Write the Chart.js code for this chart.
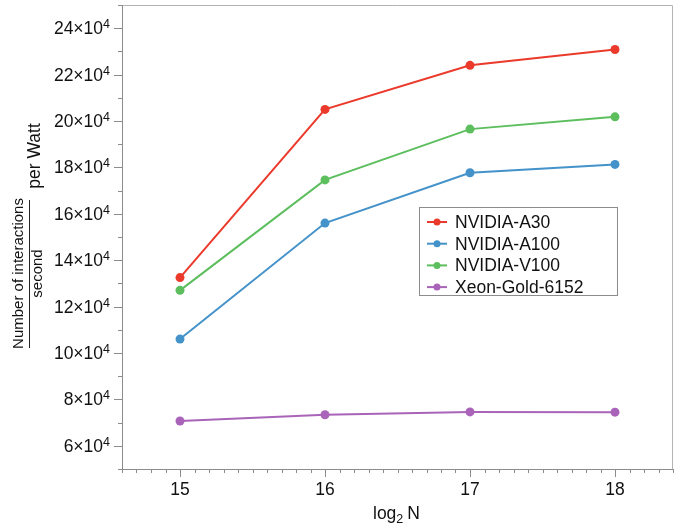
<!DOCTYPE html>
<html>
<head>
<meta charset="utf-8">
<script src="https://cdn.jsdelivr.net/npm/chart.js@4/dist/chart.umd.min.js"></script>
<style>
  html, body { margin: 0; padding: 0; background: #fff; overflow: hidden; }
  #wrap { width: 674px; height: 525px; position: relative; }
</style>
</head>
<body>
<div id="wrap"><canvas id="myChart"></canvas></div>
<script>
// data (y values in units of 10^4)
const sizes = [15, 16, 17, 18];
const a30 = [13.25, 20.5, 22.4, 23.08];
const a100 = [10.6, 15.6, 17.77, 18.13];
const v100 = [12.7, 17.46, 19.65, 20.18];
const xeon = [7.07, 7.34, 7.46, 7.45];

const seriesNames = ['NVIDIA-A30', 'NVIDIA-A100', 'NVIDIA-V100', 'Xeon-Gold-6152'];
const seriesColors = ['#EB3A2B', '#4392C9', '#5DBE5E', '#A963B9'];

const xTicks = [15, 16, 17, 18];
const yTicks = [6, 8, 10, 12, 14, 16, 18, 20, 22, 24];

const FONT = '"Liberation Sans", Arial, Helvetica, sans-serif';

function toPoints(values) {
  return sizes.map(function(x, i) { return { x: x, y: values[i] * 1e4 }; });
}

const allValues = [a30, a100, v100, xeon];

// draws frame, tick marks, tick labels, axis titles and legend
const decorPlugin = {
  id: 'decor',
  afterDraw(chart) {
    const ctx = chart.ctx;
    const a = chart.chartArea;
    const xs = chart.scales.x;
    const ys = chart.scales.y;
    ctx.save();

    // top and right frame
    ctx.strokeStyle = '#b4b4b4';
    ctx.lineWidth = 1;
    ctx.beginPath();
    ctx.moveTo(a.left, a.top + 0.5);
    ctx.lineTo(a.right - 0.5, a.top + 0.5);
    ctx.lineTo(a.right - 0.5, a.bottom);
    ctx.stroke();

    // left and bottom axes
    ctx.strokeStyle = '#8c8c8c';
    ctx.beginPath();
    ctx.moveTo(a.left + 0.5, a.top);
    ctx.lineTo(a.left + 0.5, a.bottom + 0.5);
    ctx.lineTo(a.right, a.bottom + 0.5);
    ctx.stroke();

    // y ticks every 1e4, major every 2e4
    ctx.beginPath();
    for (let v = 5; v <= 25; v++) {
      const py = Math.round(ys.getPixelForValue(v * 1e4)) + 0.5;
      const len = (v % 2 === 0) ? 8 : 4;
      ctx.moveTo(a.left, py);
      ctx.lineTo(a.left - len, py);
    }
    // x ticks every 0.1, major on integers
    for (let k = 146; k <= 184; k++) {
      const px = Math.round(xs.getPixelForValue(k / 10)) + 0.5;
      const len = (k % 10 === 0) ? 8 : 4;
      ctx.moveTo(px, a.bottom);
      ctx.lineTo(px, a.bottom + len);
    }
    ctx.stroke();

    ctx.fillStyle = '#111';
    // y tick labels like 24x10^4
    yTicks.forEach(function(v) {
      const py = ys.getPixelForValue(v * 1e4);
      ctx.font = '12.5px ' + FONT;
      ctx.textAlign = 'right';
      ctx.textBaseline = 'alphabetic';
      const supW = ctx.measureText('4').width;
      ctx.fillText('4', 110, py + 0);
      ctx.font = '17.5px ' + FONT;
      ctx.fillText(v + '\u00d710', 110 - supW, py + 6);
    });

    // x tick labels
    ctx.font = '17.5px ' + FONT;
    ctx.textAlign = 'center';
    ctx.textBaseline = 'middle';
    xTicks.forEach(function(v) {
      ctx.fillText(String(v), xs.getPixelForValue(v), 490);
    });

    // x title: log2 N
    ctx.textAlign = 'left';
    ctx.textBaseline = 'alphabetic';
    ctx.font = '17.5px ' + FONT;
    let tx = 373;
    ctx.fillText('log', tx, 519);
    tx += ctx.measureText('log').width;
    ctx.font = '12.5px ' + FONT;
    ctx.fillText('2', tx, 523);
    tx += ctx.measureText('2').width + 4;
    ctx.font = '17.5px ' + FONT;
    ctx.fillText('N', tx, 519);

    // y title: (Number of interactions / second) per Watt
    ctx.save();
    ctx.rotate(-Math.PI / 2);
    ctx.textAlign = 'center';
    ctx.textBaseline = 'middle';
    ctx.font = '15px ' + FONT;
    ctx.fillText('Number of interactions', -273.5, 19);
    ctx.fillText('second', -273.5, 38);
    ctx.font = '17.5px ' + FONT;
    ctx.fillText('per Watt', -156, 35);
    ctx.restore();
    ctx.strokeStyle = '#222';
    ctx.lineWidth = 1;
    ctx.beginPath();
    ctx.moveTo(29.5, 200);
    ctx.lineTo(29.5, 348);
    ctx.stroke();

    // legend
    const lx = 419, ly = 207, lw = 198, lh = 88;
    ctx.fillStyle = '#fff';
    ctx.fillRect(lx, ly, lw, lh);
    ctx.strokeStyle = '#8c8c8c';
    ctx.strokeRect(lx + 0.5, ly + 0.5, lw, lh);
    ctx.font = '17.5px ' + FONT;
    ctx.textAlign = 'left';
    ctx.textBaseline = 'middle';
    seriesNames.forEach(function(name, i) {
      const cy = 222 + i * 21.7;
      ctx.strokeStyle = seriesColors[i];
      ctx.lineWidth = 2;
      ctx.beginPath();
      ctx.moveTo(427, cy);
      ctx.lineTo(447, cy);
      ctx.stroke();
      ctx.fillStyle = seriesColors[i];
      ctx.beginPath();
      ctx.arc(437, cy, 3.5, 0, Math.PI * 2);
      ctx.fill();
      ctx.fillStyle = '#111';
      ctx.fillText(name, 455, cy + 1);
    });

    ctx.restore();
  }
};

const ctx = document.querySelector('#myChart').getContext('2d');

// eslint-disable-next-line no-undef
const chart = new Chart(ctx, {
  type: 'line',
  data: {
    datasets: seriesNames.map(function(name, i) {
      return {
        label: name,
        data: toPoints(allValues[i]),
        borderColor: seriesColors[i],
        backgroundColor: seriesColors[i],
        borderWidth: 2,
        pointRadius: 4.5,
        pointHoverRadius: 4.5,
        pointBorderWidth: 0,
        tension: 0,
      };
    })
  },
  options: {
    responsive: true,
    maintainAspectRatio: false,
    animation: false,
    events: [],
    layout: { autoPadding: false, padding: { top: 5, right: 1, left: 0, bottom: 0 } },
    plugins: {
      legend: { display: false },
      tooltip: { enabled: false },
    },
    scales: {
      x: {
        type: 'linear',
        min: 14.6,
        max: 18.4,
        grid: { display: false },
        border: { display: false },
        ticks: { display: false },
        afterFit(scale) { scale.height = 56; },
      },
      y: {
        type: 'linear',
        min: 5e4,
        max: 25e4,
        grid: { display: false },
        border: { display: false },
        ticks: { display: false },
        afterFit(scale) { scale.width = 122; },
      }
    }
  },
  plugins: [decorPlugin],
});
</script>
</body>
</html>
